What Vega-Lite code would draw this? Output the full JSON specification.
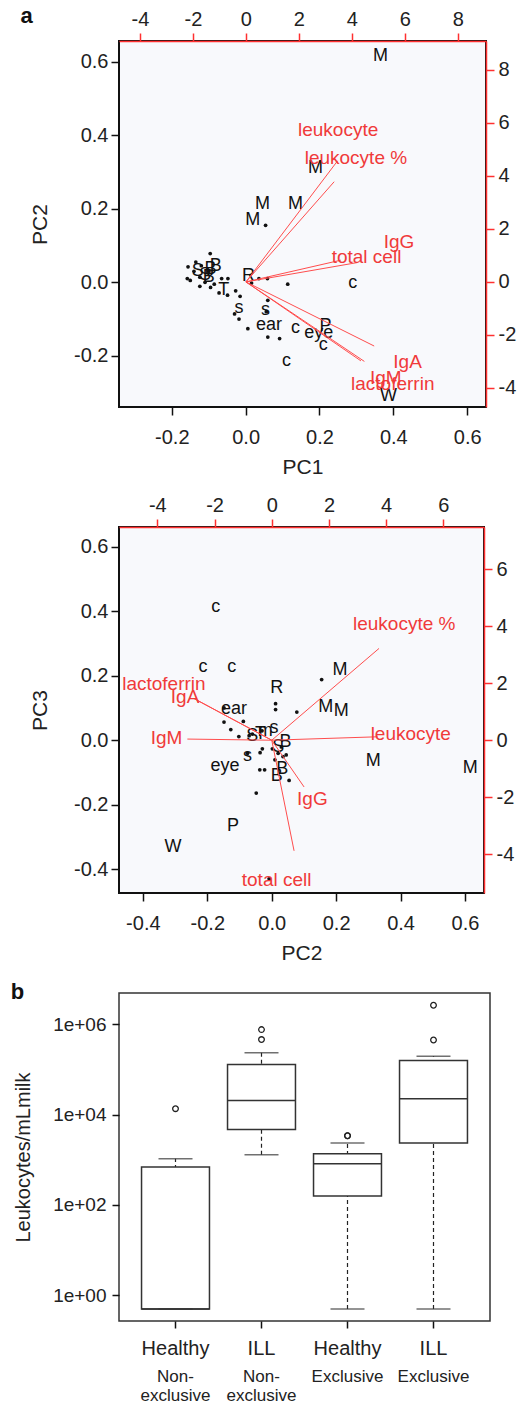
{
  "$schema": "https://vega.github.io/schema/vega-lite/v6.json",
  "padding": {"left": 9, "top": 4, "right": 0, "bottom": 0},
  "background": "white",
  "spacing": 16,
  "config": {
    "font": "Liberation Sans",
    "locale": {"number": {"decimal": ".", "thousands": ",", "grouping": [3], "currency": ["$", ""], "minus": "-"}},
    "axis": {"grid": false, "domain": false, "labelFontSize": 20, "titleFontSize": 21, "titleFontWeight": "normal", "tickSize": 8, "tickWidth": 1.5, "tickColor": "#111", "labelColor": "#222", "titleColor": "#222"},
    "axisBottom": {"labelPadding": 12, "titlePadding": 9},
    "axisLeft": {"labelPadding": 3, "titlePadding": 23},
    "axisTop": {"tickColor": "#ff3030", "domain": true, "domainColor": "#ff3030", "domainWidth": 1.5, "labelPadding": 4},
    "axisRight": {"tickColor": "#ff3030", "domain": true, "domainColor": "#ff3030", "domainWidth": 1.5, "labelPadding": 4}
  },
  "datasets": {
    "d1": [
      {"x": -0.096, "y": 0.078}, {"x": -0.135, "y": 0.055}, {"x": -0.156, "y": 0.042}, {"x": -0.158, "y": 0.01},
      {"x": -0.15, "y": 0.005}, {"x": -0.124, "y": -0.011}, {"x": -0.095, "y": -0.014}, {"x": -0.072, "y": -0.029},
      {"x": -0.049, "y": -0.035}, {"x": -0.065, "y": 0.01}, {"x": -0.048, "y": 0.01}, {"x": -0.027, "y": -0.023},
      {"x": -0.015, "y": -0.038}, {"x": -0.03, "y": -0.086}, {"x": -0.018, "y": -0.1}, {"x": 0.006, "y": -0.126},
      {"x": 0.06, "y": -0.049}, {"x": 0.06, "y": -0.149}, {"x": 0.092, "y": -0.153}, {"x": 0.114, "y": -0.005},
      {"x": 0.059, "y": 0.01}, {"x": 0.036, "y": 0.01}, {"x": 0.016, "y": -0.002}, {"x": 0.054, "y": 0.155},
      {"x": -0.124, "y": 0.014}, {"x": -0.11, "y": 0.0}, {"x": -0.14, "y": 0.03}, {"x": -0.12, "y": 0.045},
      {"x": -0.1, "y": 0.03}, {"x": -0.085, "y": -0.005}, {"x": 0.056, "y": -0.08}
    ],
    "l1": [
      {"lab": "M", "x": 0.365, "y": 0.615}, {"lab": "M", "x": 0.189, "y": 0.31}, {"lab": "M", "x": 0.046, "y": 0.212},
      {"lab": "M", "x": 0.135, "y": 0.212}, {"lab": "M", "x": 0.019, "y": 0.169}, {"lab": "c", "x": 0.29, "y": -0.003},
      {"lab": "R", "x": 0.008, "y": 0.016}, {"lab": "B", "x": -0.081, "y": 0.044}, {"lab": "B", "x": -0.095, "y": 0.035},
      {"lab": "S", "x": -0.13, "y": 0.03}, {"lab": "S", "x": -0.11, "y": 0.02}, {"lab": "B", "x": -0.1, "y": 0.015},
      {"lab": "T", "x": -0.059, "y": -0.02}, {"lab": "s", "x": -0.018, "y": -0.07}, {"lab": "s", "x": 0.054, "y": -0.074},
      {"lab": "ear", "x": 0.063, "y": -0.115}, {"lab": "c", "x": 0.135, "y": -0.124}, {"lab": "eye", "x": 0.198, "y": -0.138},
      {"lab": "P", "x": 0.216, "y": -0.12}, {"lab": "c", "x": 0.21, "y": -0.17}, {"lab": "c", "x": 0.111, "y": -0.213},
      {"lab": "W", "x": 0.387, "y": -0.31}
    ],
    "a1": [
      {"var": "leukocyte %", "o": 0, "u": 3.46, "v": 4.57, "lu": 4.15, "lv": 4.69},
      {"var": "leukocyte", "o": 0, "u": 3.33, "v": 3.78, "lu": 3.48, "lv": 5.72},
      {"var": "IgG", "o": 0, "u": 4.21, "v": 0.73, "lu": 5.78, "lv": 1.52},
      {"var": "total cell", "o": 0, "u": 3.58, "v": 0.82, "lu": 4.55, "lv": 0.94},
      {"var": "IgA", "o": 0, "u": 4.84, "v": -2.42, "lu": 6.1, "lv": -3.01},
      {"var": "IgM", "o": 0, "u": 4.47, "v": -3.0, "lu": 5.28, "lv": -3.63},
      {"var": "lactoferrin", "o": 0, "u": 4.34, "v": -2.98, "lu": 5.54, "lv": -3.84}
    ],
    "d2": [
      {"x": 0.155, "y": 0.189}, {"x": 0.012, "y": 0.114}, {"x": 0.012, "y": 0.096}, {"x": 0.078, "y": 0.088},
      {"x": -0.148, "y": 0.057}, {"x": -0.127, "y": 0.034}, {"x": -0.088, "y": 0.059}, {"x": -0.102, "y": 0.012},
      {"x": -0.148, "y": 0.101}, {"x": -0.029, "y": -0.026}, {"x": -0.036, "y": -0.038}, {"x": -0.037, "y": -0.091},
      {"x": -0.022, "y": -0.091}, {"x": 0.054, "y": -0.124}, {"x": -0.048, "y": -0.163}, {"x": 0.002, "y": -0.026},
      {"x": 0.02, "y": -0.04}, {"x": 0.035, "y": -0.05}, {"x": 0.045, "y": -0.045}, {"x": 0.01, "y": -0.06},
      {"x": -0.008, "y": -0.429}, {"x": -0.06, "y": 0.02}, {"x": -0.07, "y": 0.015}, {"x": -0.03, "y": 0.03},
      {"x": 0.03, "y": -0.02}, {"x": -0.075, "y": -0.04}
    ],
    "l2": [
      {"lab": "c", "x": -0.174, "y": 0.413}, {"lab": "c", "x": -0.213, "y": 0.227}, {"lab": "c", "x": -0.124, "y": 0.227},
      {"lab": "R", "x": 0.016, "y": 0.163}, {"lab": "M", "x": 0.212, "y": 0.22}, {"lab": "M", "x": 0.168, "y": 0.103},
      {"lab": "M", "x": 0.216, "y": 0.091}, {"lab": "M", "x": 0.315, "y": -0.064}, {"lab": "M", "x": 0.616, "y": -0.085},
      {"lab": "ear", "x": -0.117, "y": 0.098}, {"lab": "eye", "x": -0.145, "y": -0.08}, {"lab": "s", "x": -0.075, "y": -0.049},
      {"lab": "s", "x": 0.007, "y": 0.039}, {"lab": "S", "x": -0.06, "y": 0.015}, {"lab": "m", "x": -0.02, "y": 0.028},
      {"lab": "T", "x": -0.035, "y": 0.02}, {"lab": "B", "x": 0.043, "y": -0.005}, {"lab": "B", "x": 0.033, "y": -0.088},
      {"lab": "B", "x": 0.016, "y": -0.109}, {"lab": "S", "x": 0.02, "y": -0.02}, {"lab": "P", "x": -0.12, "y": -0.264},
      {"lab": "W", "x": -0.306, "y": -0.331}
    ],
    "a2": [
      {"var": "leukocyte %", "o": 0, "u": 3.75, "v": 3.22, "lu": 4.63, "lv": 4.07},
      {"var": "leukocyte", "o": 0, "u": 3.7, "v": 0.12, "lu": 4.86, "lv": 0.21},
      {"var": "IgM", "o": 0, "u": -2.95, "v": 0.04, "lu": -3.68, "lv": 0.09},
      {"var": "lactoferrin", "o": 0, "u": -2.72, "v": 1.46, "lu": -3.77, "lv": 1.96},
      {"var": "IgA", "o": 0, "u": -2.6, "v": 1.4, "lu": -3.03, "lv": 1.52},
      {"var": "IgG", "o": 0, "u": 1.13, "v": -1.64, "lu": 1.42, "lv": -2.05},
      {"var": "total cell", "o": 0, "u": 0.78, "v": -3.88, "lu": 0.17, "lv": -4.89}
    ],
    "box": [
      {"key": "Healthy|Non-|exclusive", "lower": 0.5, "q1": 0.5, "median": 0.5, "q3": 690, "upper": 1050},
      {"key": "ILL|Non-|exclusive", "lower": 1290, "q1": 4680, "median": 20400, "q3": 129000, "upper": 234000},
      {"key": "Healthy|Exclusive", "lower": 0.5, "q1": 158, "median": 813, "q3": 1350, "upper": 2340},
      {"key": "ILL|Exclusive", "lower": 0.5, "q1": 2340, "median": 22400, "q3": 158000, "upper": 195000}
    ],
    "out": [
      {"key": "Healthy|Non-|exclusive", "val": 13500},
      {"key": "ILL|Non-|exclusive", "val": 759000},
      {"key": "ILL|Non-|exclusive", "val": 457000},
      {"key": "Healthy|Exclusive", "val": 3390},
      {"key": "Healthy|Exclusive", "val": 3400},
      {"key": "ILL|Exclusive", "val": 2630000},
      {"key": "ILL|Exclusive", "val": 447000}
    ]
  },
  "vconcat": [
    {
      "width": 367, "height": 366,
      "title": {"text": "a", "anchor": "start", "frame": "bounds", "fontSize": 22, "fontWeight": "bold", "color": "#111", "offset": -19, "dx": -9},
      "view": {"fill": "#f8f9fc", "stroke": "#111", "strokeWidth": 2},
      "resolve": {"scale": {"x": "independent", "y": "independent"}},
      "layer": [
        {"layer": [
          {"data": {"name": "d1"}, "mark": {"type": "point", "filled": true, "size": 14, "color": "#111", "opacity": 1},
           "encoding": {
             "x": {"field": "x", "type": "quantitative", "scale": {"domain": [-0.343, 0.651], "nice": false, "zero": false},
                   "axis": {"orient": "bottom", "title": "PC1", "values": [-0.2, 0, 0.2, 0.4, 0.6], "format": ".1f"}},
             "y": {"field": "y", "type": "quantitative", "scale": {"domain": [-0.339, 0.656], "nice": false, "zero": false},
                   "axis": {"orient": "left", "title": "PC2", "values": [-0.2, 0, 0.2, 0.4, 0.6], "format": ".1f"}}}},
          {"data": {"name": "l1"}, "mark": {"type": "text", "fontSize": 18, "color": "#111"},
           "encoding": {"x": {"field": "x", "type": "quantitative"}, "y": {"field": "y", "type": "quantitative"}, "text": {"field": "lab"}}}
        ]},
        {"layer": [
          {"data": {"name": "a1"}, "mark": {"type": "rule", "color": "#ff4d4d", "strokeWidth": 1},
           "encoding": {
             "x": {"field": "o", "type": "quantitative", "scale": {"domain": [-4.79, 9.06], "nice": false, "zero": false},
                   "axis": {"orient": "top", "title": null, "values": [-4, -2, 0, 2, 4, 6, 8]}},
             "y": {"field": "o", "type": "quantitative", "scale": {"domain": [-4.72, 9.09], "nice": false, "zero": false},
                   "axis": {"orient": "right", "title": null, "values": [-4, -2, 0, 2, 4, 6, 8]}},
             "x2": {"field": "u"}, "y2": {"field": "v"}}},
          {"data": {"name": "a1"}, "mark": {"type": "text", "fontSize": 19, "color": "#f03a3a"},
           "encoding": {"x": {"field": "lu", "type": "quantitative"}, "y": {"field": "lv", "type": "quantitative"}, "text": {"field": "var"}}}
        ]}
      ]
    },
    {
      "width": 365, "height": 366,
      "view": {"fill": "#f8f9fc", "stroke": "#111", "strokeWidth": 2},
      "resolve": {"scale": {"x": "independent", "y": "independent"}},
      "layer": [
        {"layer": [
          {"data": {"name": "d2"}, "mark": {"type": "point", "filled": true, "size": 14, "color": "#111", "opacity": 1},
           "encoding": {
             "x": {"field": "x", "type": "quantitative", "scale": {"domain": [-0.474, 0.659], "nice": false, "zero": false},
                   "axis": {"orient": "bottom", "title": "PC2", "values": [-0.4, -0.2, 0, 0.2, 0.4, 0.6], "format": ".1f"}},
             "y": {"field": "y", "type": "quantitative", "scale": {"domain": [-0.473, 0.662], "nice": false, "zero": false},
                   "axis": {"orient": "left", "title": "PC3", "values": [-0.4, -0.2, 0, 0.2, 0.4, 0.6], "format": ".1f"}}}},
          {"data": {"name": "l2"}, "mark": {"type": "text", "fontSize": 18, "color": "#111"},
           "encoding": {"x": {"field": "x", "type": "quantitative"}, "y": {"field": "y", "type": "quantitative"}, "text": {"field": "lab"}}}
        ]},
        {"layer": [
          {"data": {"name": "a2"}, "mark": {"type": "rule", "color": "#ff4d4d", "strokeWidth": 1},
           "encoding": {
             "x": {"field": "o", "type": "quantitative", "scale": {"domain": [-5.34, 7.42], "nice": false, "zero": false},
                   "axis": {"orient": "top", "title": null, "values": [-4, -2, 0, 2, 4, 6]}},
             "y": {"field": "o", "type": "quantitative", "scale": {"domain": [-5.36, 7.48], "nice": false, "zero": false},
                   "axis": {"orient": "right", "title": null, "values": [-4, -2, 0, 2, 4, 6]}},
             "x2": {"field": "u"}, "y2": {"field": "v"}}},
          {"data": {"name": "a2"}, "mark": {"type": "text", "fontSize": 19, "color": "#f03a3a"},
           "encoding": {"x": {"field": "lu", "type": "quantitative"}, "y": {"field": "lv", "type": "quantitative"}, "text": {"field": "var"}}}
        ]}
      ]
    },
    {
      "width": 371, "height": 328,
      "title": {"text": "b", "anchor": "start", "frame": "bounds", "fontSize": 22, "fontWeight": "bold", "color": "#111", "offset": -11, "dx": -3},
      "view": {"fill": "white", "stroke": "#333", "strokeWidth": 1.5},
      "resolve": {"axis": {"x": "independent"}},
      "layer": [
        {"data": {"name": "box"}, "mark": {"type": "rule", "strokeDash": [4, 3], "color": "#222", "strokeWidth": 1.2},
         "encoding": {
           "x": {"field": "key", "type": "nominal", "sort": null, "scale": {"paddingInner": 0.21, "paddingOuter": 0.262},
                 "axis": {"orient": "bottom", "title": null, "labelExpr": "split(datum.value, '|')[0]", "labelAngle": 0, "labelFontSize": 20, "tickSize": 7, "labelPadding": 10, "labelOverlap": false}},
           "y": {"field": "lower", "type": "quantitative", "scale": {"type": "log", "domain": [0.27, 4900000], "nice": false},
                 "axis": {"orient": "left", "values": [1, 100, 10000, 1000000], "labelExpr": "'1e+0' + round(log(datum.value) / LN10)", "title": "Leukocytes/mLmilk", "titleFontSize": 20, "labelFontSize": 19, "tickSize": 7, "labelPadding": 6, "titlePadding": 19}},
           "y2": {"field": "upper"}}},
        {"data": {"name": "box"}, "mark": {"type": "rect", "fill": "white", "stroke": "#333", "strokeWidth": 1.5},
         "encoding": {
           "x": {"field": "key", "type": "nominal", "sort": null,
                 "axis": {"orient": "bottom", "title": null, "labelExpr": "slice(split(datum.value, '|'), 1)", "labelAngle": 0, "labelFontSize": 17, "ticks": false, "labelPadding": 47, "labelLineHeight": 19, "labelOverlap": false}},
           "y": {"field": "q1", "type": "quantitative"}, "y2": {"field": "q3"}}},
        {"data": {"name": "box"}, "mark": {"type": "rect", "fill": "white", "stroke": "#333", "strokeWidth": 1.5},
         "encoding": {
           "x": {"field": "key", "type": "nominal", "sort": null, "axis": null},
           "y": {"field": "median", "type": "quantitative"}, "y2": {"field": "median"}}},
        {"data": {"name": "box"}, "mark": {"type": "tick", "size": 34, "thickness": 1.5, "color": "#333"},
         "encoding": {
           "x": {"field": "key", "type": "nominal", "sort": null, "axis": null},
           "y": {"field": "upper", "type": "quantitative"}}},
        {"data": {"name": "box"}, "mark": {"type": "tick", "size": 34, "thickness": 1.5, "color": "#333"},
         "encoding": {
           "x": {"field": "key", "type": "nominal", "sort": null, "axis": null},
           "y": {"field": "lower", "type": "quantitative"}}},
        {"data": {"name": "out"}, "mark": {"type": "point", "shape": "circle", "filled": false, "size": 32, "color": "#222", "strokeWidth": 1.3, "opacity": 1},
         "encoding": {
           "x": {"field": "key", "type": "nominal", "sort": null, "axis": null},
           "y": {"field": "val", "type": "quantitative"}}}
      ]
    }
  ]
}
